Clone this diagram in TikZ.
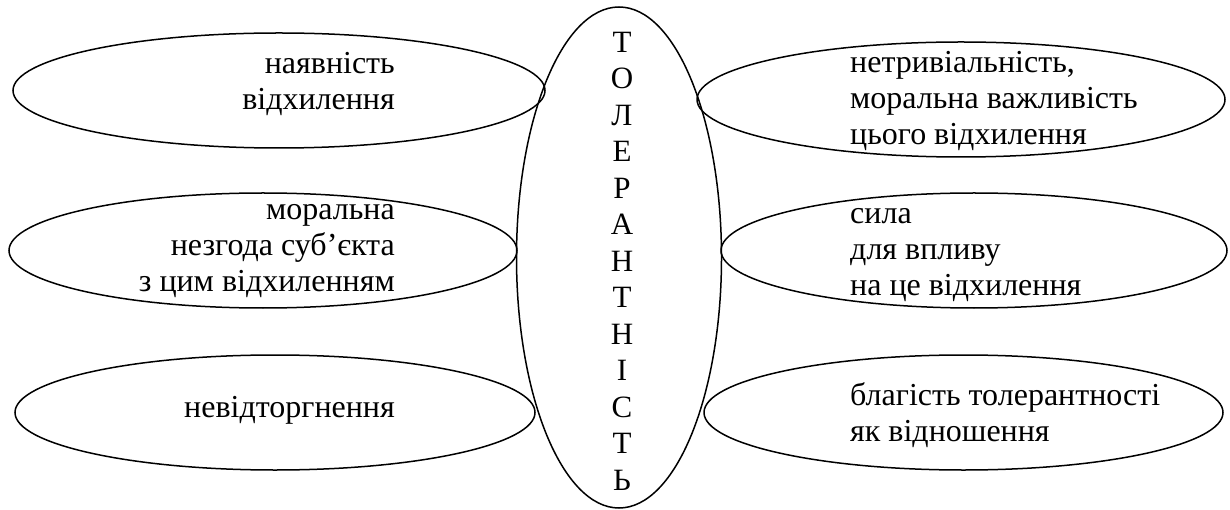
\documentclass[tikz,border=0pt]{standalone}
\usepackage{fontspec}
\setmainfont{Liberation Serif}
\usetikzlibrary{shapes.geometric}

\begin{document}
\begin{tikzpicture}[x=1pt,y=-1pt,
  oval/.style={draw,ellipse,line width=1.5pt,inner sep=0pt},
  leftTxt/.style={anchor=east,align=right,inner sep=0pt,font=\fontsize{32}{36}\selectfont},
  rightTxt/.style={anchor=west,align=left,inner sep=0pt,font=\fontsize{32}{36}\selectfont},
  word/.style={align=center,inner sep=0pt,font=\fontsize{31}{36.5}\selectfont}]
\useasboundingbox (0,0) rectangle (1230,510);

% Central ellipse with the vertical word.
\node[oval,minimum width=205pt,minimum height=501pt] (tol) at (619,257.5) {};
\node[word] (tolW) at (622,261) {Т\\О\\Л\\Е\\Р\\А\\Н\\Т\\Н\\І\\С\\Т\\Ь};

% Left ellipses.
\node[oval,minimum width=532pt,minimum height=115pt] (nayav) at (279,90.5) {};
\node[oval,minimum width=508pt,minimum height=115pt] (nezgoda) at (263,250.5) {};
\node[oval,minimum width=520pt,minimum height=115pt] (nevidt) at (275,412.5) {};

\node[leftTxt] (nayavT) at (395,84) {наявність\\відхилення};
\node[leftTxt] (nezgodaT) at (395,251) {моральна\\незгода суб’єкта\\з цим відхиленням};
\node[leftTxt] (nevidtT) at (395,410) {невідторгнення};

% Right ellipses.
\node[oval,minimum width=528pt,minimum height=115pt] (netryv) at (961,99.5) {};
\node[oval,minimum width=506pt,minimum height=115pt] (syla) at (974,250.5) {};
\node[oval,minimum width=519pt,minimum height=115pt] (blah) at (963.5,412.5) {};

\node[rightTxt] (netryvT) at (850,101) {нетривіальність,\\моральна важливість\\цього відхилення};
\node[rightTxt] (sylaT) at (850,255.5) {сила\\для впливу\\на це відхилення};
\node[rightTxt] (blahT) at (850,415) {благість толерантності\\як відношення};

\end{tikzpicture}
\end{document}
